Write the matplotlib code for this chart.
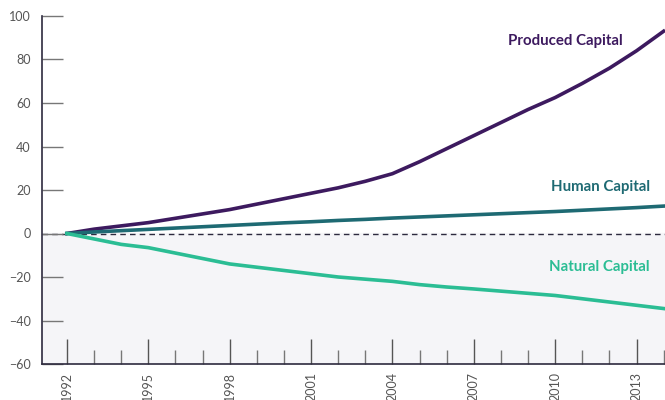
import matplotlib.pyplot as plt
from matplotlib.ticker import MultipleLocator

# Data (percent change since 1992)
years = list(range(1992, 2015))
produced = [0, 2, 3.5, 5, 7, 9, 11, 13.5, 16, 18.5, 21, 24, 27.5,
            33, 39, 45, 51, 57, 62.5, 69, 76, 84, 93]
human = [0, 0.7, 1.3, 1.9, 2.5, 3.1, 3.7, 4.3, 4.9, 5.4, 6.0, 6.5, 7.1,
         7.6, 8.1, 8.6, 9.1, 9.6, 10.1, 10.7, 11.3, 11.9, 12.6]
natural = [0, -2.5, -5, -6.5, -9, -11.5, -14, -15.5, -17, -18.5, -20, -21, -22,
           -23.5, -24.6, -25.5, -26.5, -27.5, -28.5, -30, -31.5, -33, -34.5]

plt.rcParams['font.family'] = ['Lato', 'DejaVu Sans']

fig = plt.figure(figsize=(6.65, 4.0), dpi=100)
ax = fig.add_axes([42 / 665, 36 / 400, 1 - 42 / 665, 348 / 400])

# Shaded negative area and zero line
ax.axhspan(-60, 0, color='#f5f5f8', zorder=0)
ax.axhline(0, color='#2d2a3e', lw=1, ls=(0, (4, 3)), zorder=1)

ax.plot(years, produced, color='#3d1a5f', lw=2.6, zorder=3)
ax.plot(years, human, color='#1e6a73', lw=2.6, zorder=3)
ax.plot(years, natural, color='#2bbd94', lw=2.6, zorder=3)

# Labels
ax.text(2012.5, 88.5, 'Produced Capital', color='#3d1a5f', fontsize=10.8,
        fontweight='bold', ha='right', va='center')
ax.text(2013.5, 21.5, 'Human Capital', color='#1e6a73', fontsize=10.8,
        fontweight='bold', ha='right', va='center')
ax.text(2013.5, -15.5, 'Natural Capital', color='#2bbd94', fontsize=10.8,
        fontweight='bold', ha='right', va='center')

ax.set_xlim(1991.08, 2014.05)
ax.set_ylim(-60, 100)

ax.set_yticks(range(-60, 101, 20))
ax.set_xticks(range(1992, 2014, 3))
ax.xaxis.set_minor_locator(MultipleLocator(1))

ax.tick_params(axis='y', direction='in', length=15, width=1, color='#777777',
               labelcolor='#555555', labelsize=9, pad=8)
ax.tick_params(axis='x', which='major', direction='in', length=18, width=1,
               color='#555555', labelcolor='#555555', labelsize=9,
               labelrotation=90, pad=6)
ax.tick_params(axis='x', which='minor', direction='in', length=10, width=1,
               color='#777777')

for side in ['top', 'right']:
    ax.spines[side].set_visible(False)
for side in ['left', 'bottom']:
    ax.spines[side].set_color('#2d2a3e')
    ax.spines[side].set_linewidth(1.2)

fig.savefig('out.png', dpi=100)
